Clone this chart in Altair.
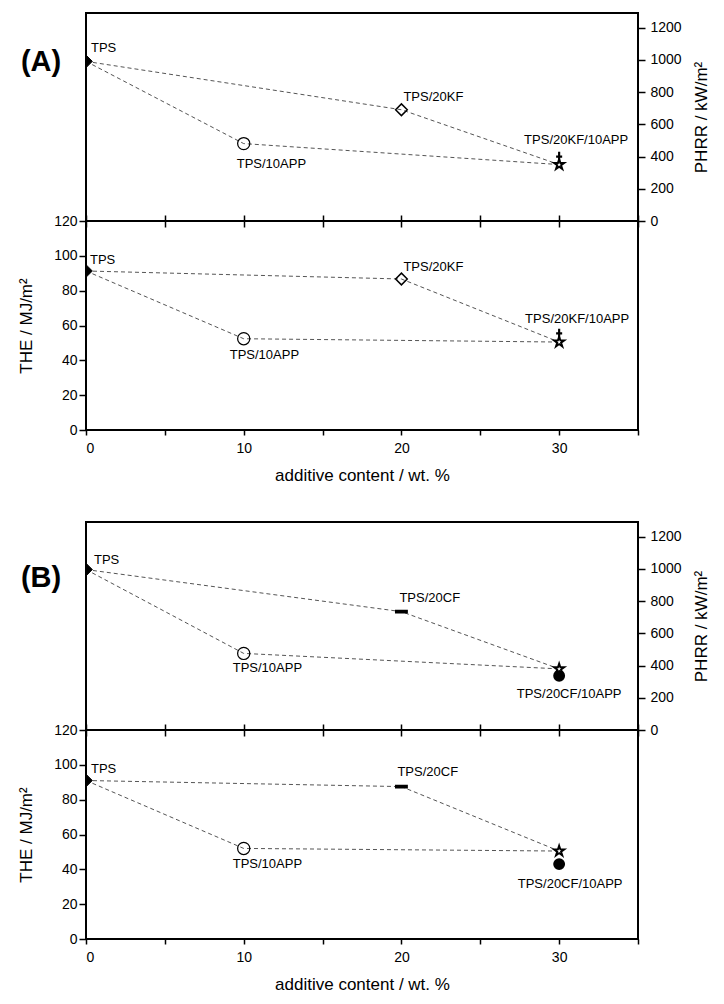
import altair as alt
import pandas as pd

# ---------------- data ----------------
x_vals = [0, 10, 20, 30]

# Figure (A)
a_names = ["TPS", "TPS/10APP", "TPS/20KF", "TPS/20KF/10APP"]
a_markers = ["tps", "circ", "diam", "star"]
a_phrr = [990, 480, 690, 350]
a_the = [91.3, 52.4, 86.7, 50.5]
a_extra_marker = "plus"
a_extra_phrr = 395
a_extra_the = 55

# Figure (B)
b_names = ["TPS", "TPS/10APP", "TPS/20CF", "TPS/20CF/10APP"]
b_markers = ["tps", "circ", "bar", "star"]
b_phrr = [995, 475, 734, 379]
b_the = [91.0, 52.0, 87.5, 50.5]
b_extra_marker = "dot"
b_extra_phrr = 336
b_extra_the = 43

# connecting dashed paths (indices into the 4 points)
paths = {"via10APP": [0, 1, 3], "via20": [0, 2, 3]}

# ---------------- styling ----------------
FONT = "Liberation Sans"
STAR = ("M0,-1L0.2245,-0.309L0.951,-0.309L0.363,0.118L0.588,0.809L0,0.382"
        "L-0.588,0.809L-0.363,0.118L-0.951,-0.309L-0.2245,-0.309Z")
marker_keys = ["tps", "circ", "diam", "bar", "star", "plus", "dot"]
marker_shapes = ["diamond", "circle", "diamond", "M-1,-0.2L1,-0.2L1,0.2L-1,0.2Z",
                 STAR, "M0,-1.1L0,0.9M-0.6,-0.15L0.6,-0.15", "circle"]
marker_fills = ["black", "transparent", "transparent", "black", "white",
                "transparent", "black"]
marker_sizes = [160, 90, 110, 110, 300, 200, 150]
marker_sw = [1, 2.4, 2.2, 1, 2, 1.6, 1]
draw_order = {"dot": 0, "tps": 1, "circ": 2, "diam": 3, "bar": 4, "star": 5, "plus": 6}

W = 552
H_UP = 208
H_LO = 209

# label offsets per panel: (dx, dy, align)
label_pos = {
    "A_up": {"TPS": (5, -13, "left"), "TPS/10APP": (-7, 20, "left"),
             "TPS/20KF": (2, -13, "left"), "TPS/20KF/10APP": (17, -25, "center")},
    "A_lo": {"TPS": (4, -11, "left"), "TPS/10APP": (-14, 16, "left"),
             "TPS/20KF": (2, -12, "left"), "TPS/20KF/10APP": (18, -23, "center")},
    "B_up": {"TPS": (8, -10, "left"), "TPS/10APP": (-11, 15, "left"),
             "TPS/20CF": (-2, -14, "left"), "TPS/20CF/10APP": (10, 25, "center")},
    "B_lo": {"TPS": (5, -12, "left"), "TPS/10APP": (-11, 16, "left"),
             "TPS/20CF": (-4, -15, "left"), "TPS/20CF/10APP": (11, 33, "center")},
}


def build_df(names, markers, vals, extra_marker, extra_val):
    rows = []
    for n, m, xv, v in zip(names, markers, x_vals, vals):
        rows.append({"x": xv, "v": v, "name": n, "marker": m})
    rows.append({"x": x_vals[-1], "v": extra_val, "name": "", "marker": extra_marker})
    df = pd.DataFrame(rows)
    df["ord"] = df["marker"].map(draw_order)
    return df.sort_values("ord").reset_index(drop=True)


def build_lines(vals):
    rows = []
    for p, idx in paths.items():
        for i in idx:
            rows.append({"x": x_vals[i], "v": vals[i], "path": p})
    return pd.DataFrame(rows)


def panel(key, names, markers, vals, extra_marker, extra_val, upper, tag=None):
    df = build_df(names, markers, vals, extra_marker, extra_val)
    ldf = build_lines(vals)
    if upper:
        x_enc = alt.X("x:Q", scale=alt.Scale(domain=[0, 35], nice=False),
                      axis=alt.Axis(orient="bottom", values=list(range(0, 36, 5)),
                                    labels=False, tickSize=12, offset=-6, title=None))
        y_enc = alt.Y("v:Q", scale=alt.Scale(domain=[0, 1290], nice=False),
                      axis=alt.Axis(orient="right", values=list(range(0, 1201, 200)),
                                    format="d", tickSize=7, labelPadding=5,
                                    title="PHRR / kW/m²",
                                    titleAngle=270, titleBaseline="top", titlePadding=12))
        h = H_UP
    else:
        x_enc = alt.X("x:Q", scale=alt.Scale(domain=[0, 35], nice=False),
                      axis=alt.Axis(orient="bottom", values=list(range(0, 36, 5)),
                                    labelExpr="datum.value % 10 === 0 ? datum.label : ''",
                                    tickSize=5, labelPadding=6,
                                    title="additive content / wt. %", titlePadding=12))
        y_enc = alt.Y("v:Q", scale=alt.Scale(domain=[0, 120], nice=False),
                      axis=alt.Axis(orient="left", values=list(range(0, 121, 20)),
                                    format="d", tickSize=7, labelPadding=2,
                                    title="THE / MJ/m²", titlePadding=18))
        h = H_LO

    lines = alt.Chart(ldf).mark_line(
        color="#555555", strokeWidth=1, strokeDash=[4, 3]
    ).encode(x=x_enc, y=y_enc, detail="path:N", order="x:Q")

    pts = alt.Chart(df).mark_point(clip=True, stroke="black", opacity=1).encode(
        x=x_enc, y=y_enc,
        shape=alt.Shape("marker:N", scale=alt.Scale(domain=marker_keys, range=marker_shapes), legend=None),
        fill=alt.Fill("marker:N", scale=alt.Scale(domain=marker_keys, range=marker_fills), legend=None),
        size=alt.Size("marker:N", scale=alt.Scale(domain=marker_keys, range=marker_sizes), legend=None),
        strokeWidth=alt.StrokeWidth("marker:N", scale=alt.Scale(domain=marker_keys, range=marker_sw), legend=None),
        order=alt.Order("ord:Q"),
    )

    layers = [lines, pts]
    for n in names:
        dx, dy, al = label_pos[key][n]
        t = alt.Chart(df).transform_filter(alt.datum.name == n).mark_text(
            dx=dx, dy=dy, align=al, baseline="middle", font=FONT, fontSize=13, color="black"
        ).encode(x=x_enc, y=y_enc, text="name:N")
        layers.append(t)

    if tag is not None:
        lab = alt.Chart(pd.DataFrame({"t": [tag[0]]})).mark_text(
            font=FONT, fontSize=29, fontWeight="bold", align="center", baseline="middle",
            color="black"
        ).encode(text="t:N", x=alt.value(tag[1]), y=alt.value(tag[2]))
        layers.append(lab)

    return alt.layer(*layers).properties(width=W, height=h)


figA = alt.vconcat(
    panel("A_up", a_names, a_markers, a_phrr, a_extra_marker, a_extra_phrr, True, ("(A)", -45, 49)),
    panel("A_lo", a_names, a_markers, a_the, a_extra_marker, a_extra_the, False),
    spacing=0, bounds="flush",
)
figB = alt.vconcat(
    panel("B_up", b_names, b_markers, b_phrr, b_extra_marker, b_extra_phrr, True, ("(B)", -45, 56)),
    panel("B_lo", b_names, b_markers, b_the, b_extra_marker, b_extra_the, False),
    spacing=0, bounds="flush",
)

chart = alt.vconcat(figA, figB, spacing=37).configure(
    background="white", padding={"left": 8, "top": 4, "right": 5, "bottom": 5}
).configure_view(
    stroke="black", strokeWidth=2
).configure_axis(
    domain=False, grid=False, tickColor="black", tickWidth=1.5,
    labelFont=FONT, labelFontSize=14, labelColor="black",
    titleFont=FONT, titleFontSize=17, titleFontWeight="normal", titleColor="black",
)

chart.save("out.html", embed_options={"renderer": "svg", "actions": False})
